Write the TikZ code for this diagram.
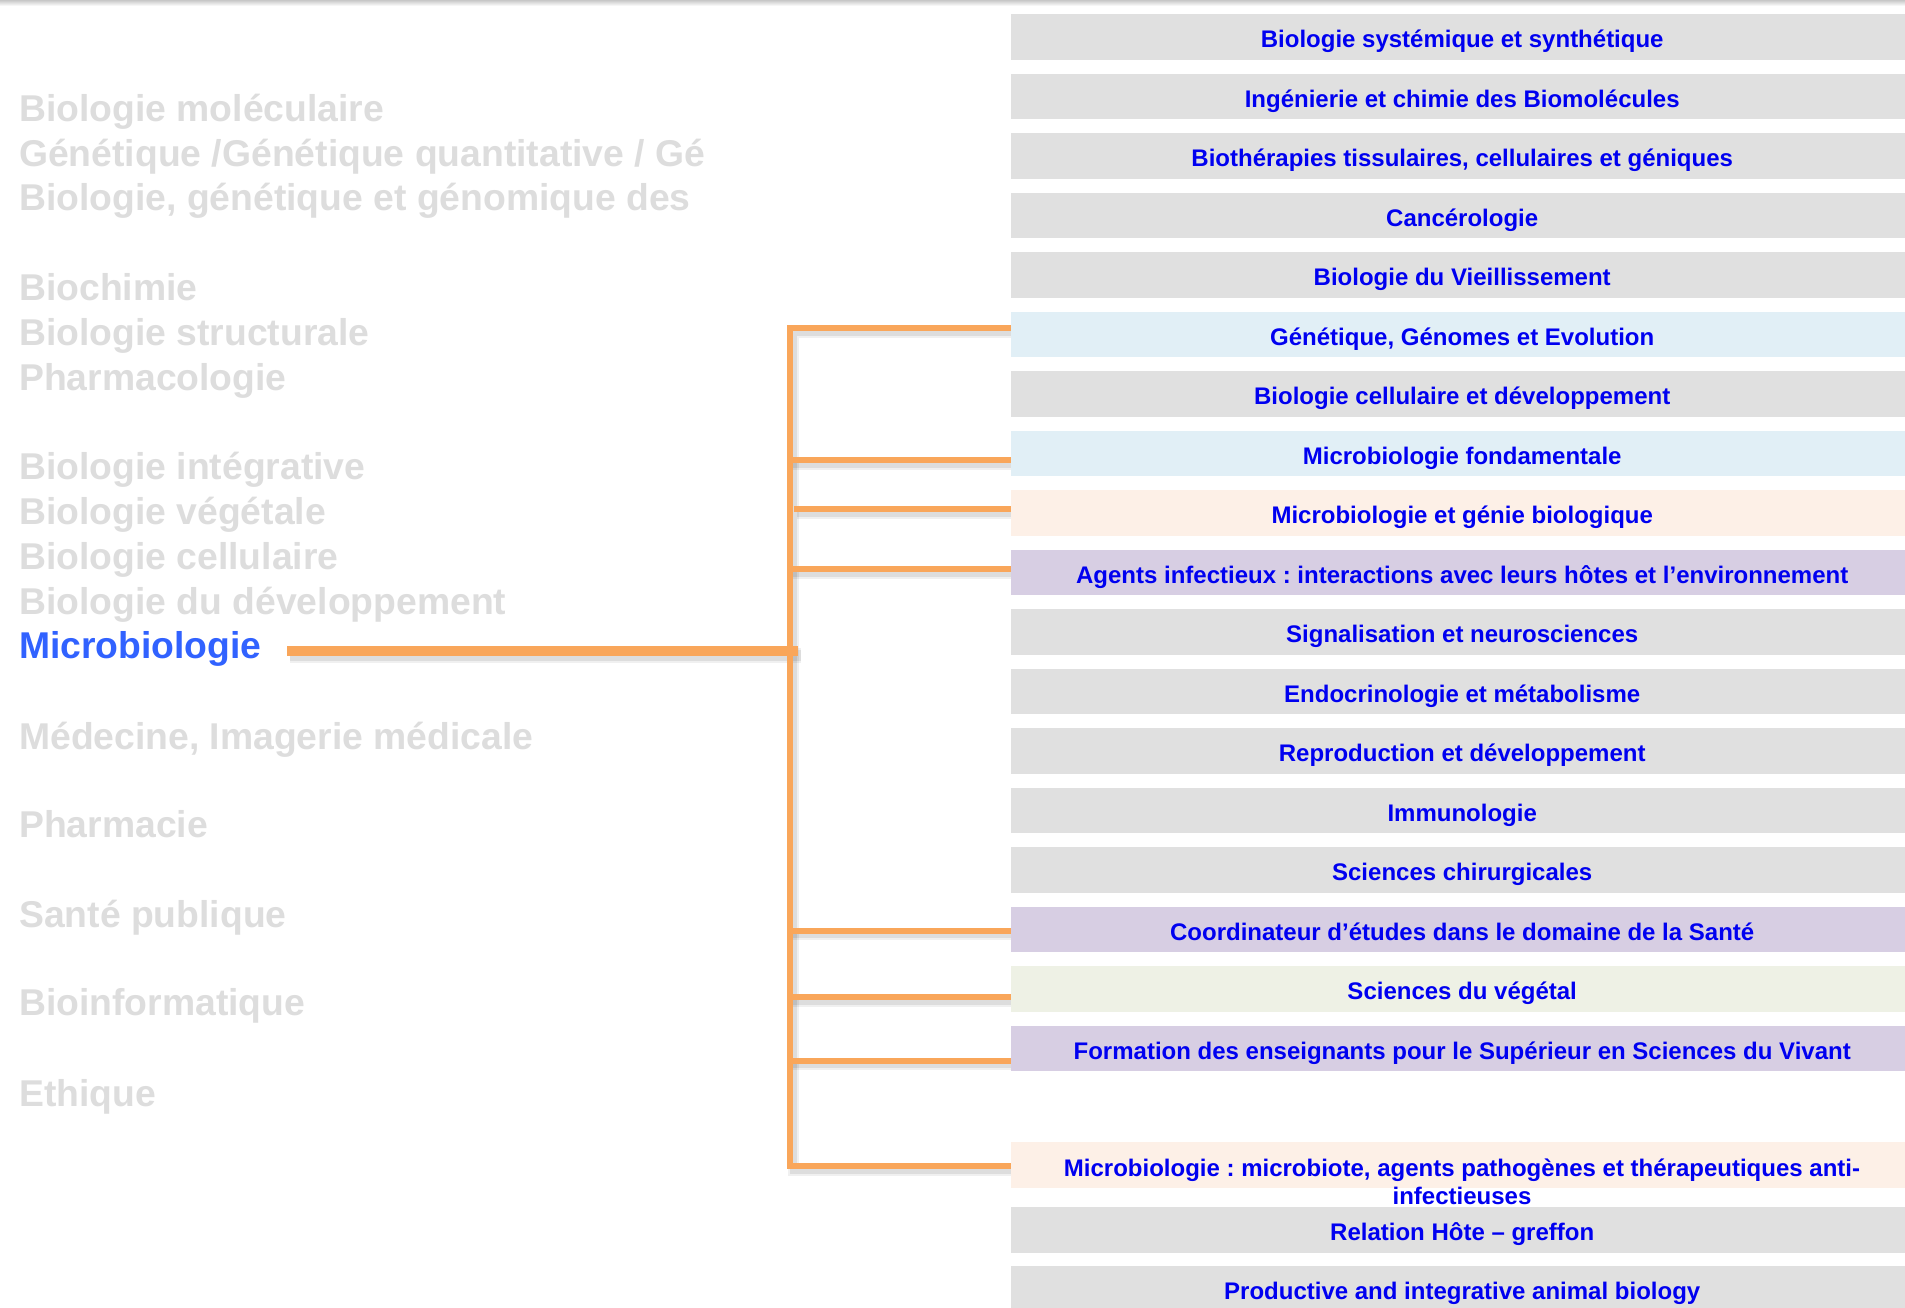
\documentclass[tikz,border=0pt]{standalone}
\usepackage{fontspec}
\setmainfont{Liberation Sans}
\frenchspacing
\definecolor{boxgray}{HTML}{E0E0E0}
\definecolor{boxblue}{HTML}{E1EFF6}
\definecolor{boxpeach}{HTML}{FDF0E7}
\definecolor{boxlav}{HTML}{D7CEE3}
\definecolor{boxgreen}{HTML}{EEF1E5}
\definecolor{txtblue}{HTML}{0000F0}
\definecolor{hiblue}{HTML}{3162FF}
\definecolor{leftgray}{HTML}{DDDDDD}
\definecolor{orangeC}{HTML}{F9A65A}
\pgfdeclarelayer{background}
\pgfsetlayers{background,main}
\newcommand{\boxfont}{\fontsize{24}{28.3}\selectfont\bfseries}
\newcommand{\leftfont}{\fontsize{37.3}{44}\selectfont\bfseries}
\newcommand{\branchset}[1]{%
  \draw[#1] (b6 -| r6.west) -- (b6) -- (b20) -- (b20 -| r20.west);
  \draw[#1] (b8) -- (b8 -| r8.west);
  \draw[#1] (b9) -- (b9 -| r9.west);
  \draw[#1] (b10) -- (b10 -| r10.west);
  \draw[#1] (b16) -- (b16 -| r16.west);
  \draw[#1] (b17) -- (b17 -| r17.west);
  \draw[#1] (b18) -- (b18 -| r18.west);
}
\begin{document}
\begin{tikzpicture}[x=1pt,y=-1pt,
  rowbox/.style={fill=#1, draw=none, minimum width=902pt, minimum height=45.7pt,
    inner sep=0pt, anchor=north west, text=txtblue, font=\boxfont,
    text height=24.6pt, text depth=3.7pt},
  lefttext/.style={anchor=base west, inner sep=0pt, text=leftgray, font=\leftfont},
  conn/.style={draw=orangeC, line width=6pt, line join=miter, line cap=butt},
  shadA/.style={draw=black, opacity=0.06, line width=11pt, line join=miter,
    transform canvas={shift={(3pt,-4pt)}}},
  shadB/.style={draw=black, opacity=0.08, line width=7pt, line join=miter,
    transform canvas={shift={(3pt,-4pt)}}}]
\useasboundingbox (0,0) rectangle (1905,1307);

% left labels
\node[lefttext] (l1) at (19,121.7) {Biologie moléculaire};
\node[lefttext] (l2) at (19,166.2) {Génétique /Génétique quantitative / Gé};
\node[lefttext] (l3) at (19,210.9) {Biologie, génétique et génomique des};
\node[lefttext] (l4) at (19,300.7) {Biochimie};
\node[lefttext] (l5) at (19,345.5) {Biologie structurale};
\node[lefttext] (l6) at (19,390) {Pharmacologie};
\node[lefttext] (l7) at (19,479.7) {Biologie intégrative};
\node[lefttext] (l8) at (19,524.5) {Biologie végétale};
\node[lefttext] (l9) at (19,569.2) {Biologie cellulaire};
\node[lefttext] (l10) at (19,614) {Biologie du développement};
\node[lefttext, text=hiblue] (micro) at (19,658.5) {Microbiologie};
\node[lefttext] (l12) at (19,749) {Médecine, Imagerie médicale};
\node[lefttext] (l13) at (19,837.5) {Pharmacie};
\node[lefttext] (l14) at (19,927.2) {Santé publique};
\node[lefttext] (l15) at (19,1015.5) {Bioinformatique};
\node[lefttext] (l16) at (19,1106) {Ethique};

% right boxes
\node[rowbox=boxgray] (r1) at (1011,14) {Biologie systémique et synthétique};
\node[rowbox=boxgray] (r2) at (1011,73.5) {Ingénierie et chimie des Biomolécules};
\node[rowbox=boxgray] (r3) at (1011,133) {Biothérapies tissulaires, cellulaires et géniques};
\node[rowbox=boxgray] (r4) at (1011,192.5) {Cancérologie};
\node[rowbox=boxgray] (r5) at (1011,252) {Biologie du Vieillissement};
\node[rowbox=boxblue] (r6) at (1011,311.5) {Génétique, Génomes et Evolution};
\node[rowbox=boxgray] (r7) at (1011,371) {Biologie cellulaire et développement};
\node[rowbox=boxblue] (r8) at (1011,430.5) {Microbiologie fondamentale};
\node[rowbox=boxpeach] (r9) at (1011,490) {Microbiologie et génie biologique};
\node[rowbox=boxlav] (r10) at (1011,549.5) {Agents infectieux : interactions avec leurs hôtes et l’environnement};
\node[rowbox=boxgray] (r11) at (1011,609) {Signalisation et neurosciences};
\node[rowbox=boxgray] (r12) at (1011,668.5) {Endocrinologie et métabolisme};
\node[rowbox=boxgray] (r13) at (1011,728) {Reproduction et développement};
\node[rowbox=boxgray] (r14) at (1011,787.5) {Immunologie};
\node[rowbox=boxgray] (r15) at (1011,847) {Sciences chirurgicales};
\node[rowbox=boxlav] (r16) at (1011,906.5) {Coordinateur d’études dans le domaine de la Santé};
\node[rowbox=boxgreen] (r17) at (1011,966) {Sciences du végétal};
\node[rowbox=boxlav] (r18) at (1011,1025.5) {Formation des enseignants pour le Supérieur en Sciences du Vivant};
\node[rowbox=boxpeach] (r20) at (1011,1142) {};
\node[rowbox=boxgray] (r21) at (1011,1207) {Relation Hôte – greffon};
\node[rowbox=boxgray] (r22) at (1011,1266) {Productive and integrative animal biology};
\node[anchor=base, inner sep=0pt, text=txtblue, font=\boxfont] (r20t) at (1462,1176)
  {\begin{tabular}[t]{@{}c@{}}Microbiologie : microbiote, agents pathogènes et thérapeutiques anti-\\infectieuses\end{tabular}};

% connector points
\coordinate (b6) at (790,328);
\coordinate (b8) at (790,460);
\coordinate (b9) at (794,509);
\coordinate (b10) at (790,569);
\coordinate (b16) at (790,930.5);
\coordinate (b17) at (790,997);
\coordinate (b18) at (790,1060.5);
\coordinate (b20) at (790,1166);
\coordinate (mA) at (287,651);
\coordinate (mB) at (798,651);

\begin{pgfonlayer}{background}
  \fill[white] (0,0) rectangle (1905,1307);
  \shade[top color=black!22, bottom color=white] (0,0) rectangle (1905,6);
  \branchset{shadA}
  \branchset{shadB}
  \draw[shadA, line width=15pt] (mA) -- (mB);
  \draw[shadB, line width=11pt] (mA) -- (mB);
  \branchset{conn}
  \draw[conn, line width=10pt] (mA) -- (mB);
\end{pgfonlayer}
\end{tikzpicture}
\end{document}
